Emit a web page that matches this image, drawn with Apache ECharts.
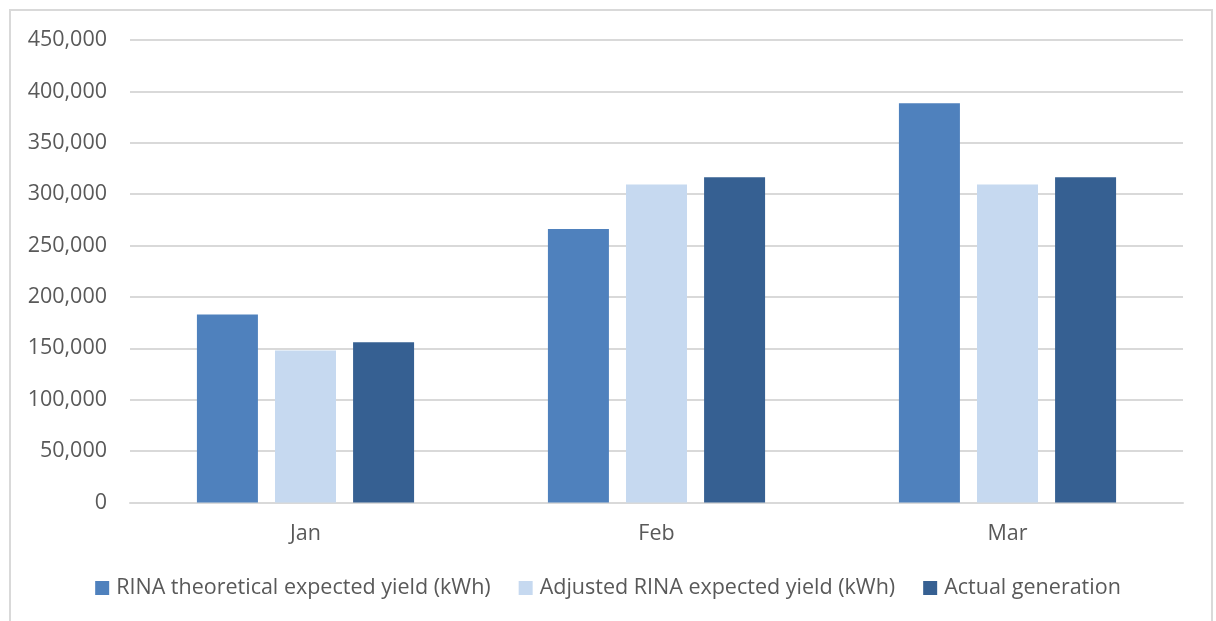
<!DOCTYPE html>
<html>
<head>
<meta charset="utf-8">
<script src="https://cdn.jsdelivr.net/npm/echarts@6/dist/echarts.min.js"></script>
<style>
html,body{margin:0;padding:0;background:#fff;}
#c{width:1216px;height:621px;}
</style>
</head>
<body>
<div id="c"></div>
<script>
var categories = ['Jan', 'Feb', 'Mar'];
var rinaTheoretical = [183000, 266000, 388500];
var adjustedRina = [148000, 309500, 309500];
var actualGeneration = [156000, 316500, 316500];
var seriesNames = ['RINA theoretical expected yield (kWh)', 'Adjusted RINA expected yield (kWh)', 'Actual generation'];
var seriesColors = ['#4f81bd', '#c6d9f0', '#366092'];

var chart = echarts.init(document.getElementById('c'));
var font = 'Open Sans';
function fmt(v){ return v.toLocaleString('en-US'); }
chart.setOption({
  animation: false,
  backgroundColor: '#ffffff',
  graphic: [{
    type: 'rect',
    shape: {x: 10, y: 10, width: 1202, height: 700},
    style: {fill: 'none', stroke: '#d9d9d9', lineWidth: 2},
    silent: true
  }],
  grid: {left: 130, right: 33, top: 40, bottom: 118.5},
  legend: {
    top: 572,
    left: 'center',
    itemWidth: 14,
    itemHeight: 14,
    itemGap: 28,
    icon: 'rect',
    textStyle: {color: '#595959', fontFamily: font, fontSize: 21.5, padding: [0, 0, 0, 2]},
    data: seriesNames
  },
  xAxis: {
    type: 'category',
    data: categories,
    axisLine: {lineStyle: {color: '#d9d9d9', width: 2}},
    axisTick: {show: false},
    axisLabel: {color: '#595959', fontFamily: font, fontSize: 21.5, margin: 20}
  },
  yAxis: {
    type: 'value',
    min: 0,
    max: 450000,
    interval: 50000,
    axisLine: {show: false},
    axisTick: {show: false},
    splitLine: {lineStyle: {color: '#d9d9d9', width: 2}},
    axisLabel: {color: '#595959', fontFamily: font, fontSize: 21.5, margin: 23, formatter: fmt}
  },
  series: [
    {name: seriesNames[0], type: 'bar', data: rinaTheoretical, barWidth: 61, barGap: '28%', itemStyle: {color: seriesColors[0]}},
    {name: seriesNames[1], type: 'bar', data: adjustedRina, barWidth: 61, barGap: '28%', itemStyle: {color: seriesColors[1]}},
    {name: seriesNames[2], type: 'bar', data: actualGeneration, barWidth: 61, barGap: '28%', itemStyle: {color: seriesColors[2]}}
  ]
});
</script>
</body>
</html>
